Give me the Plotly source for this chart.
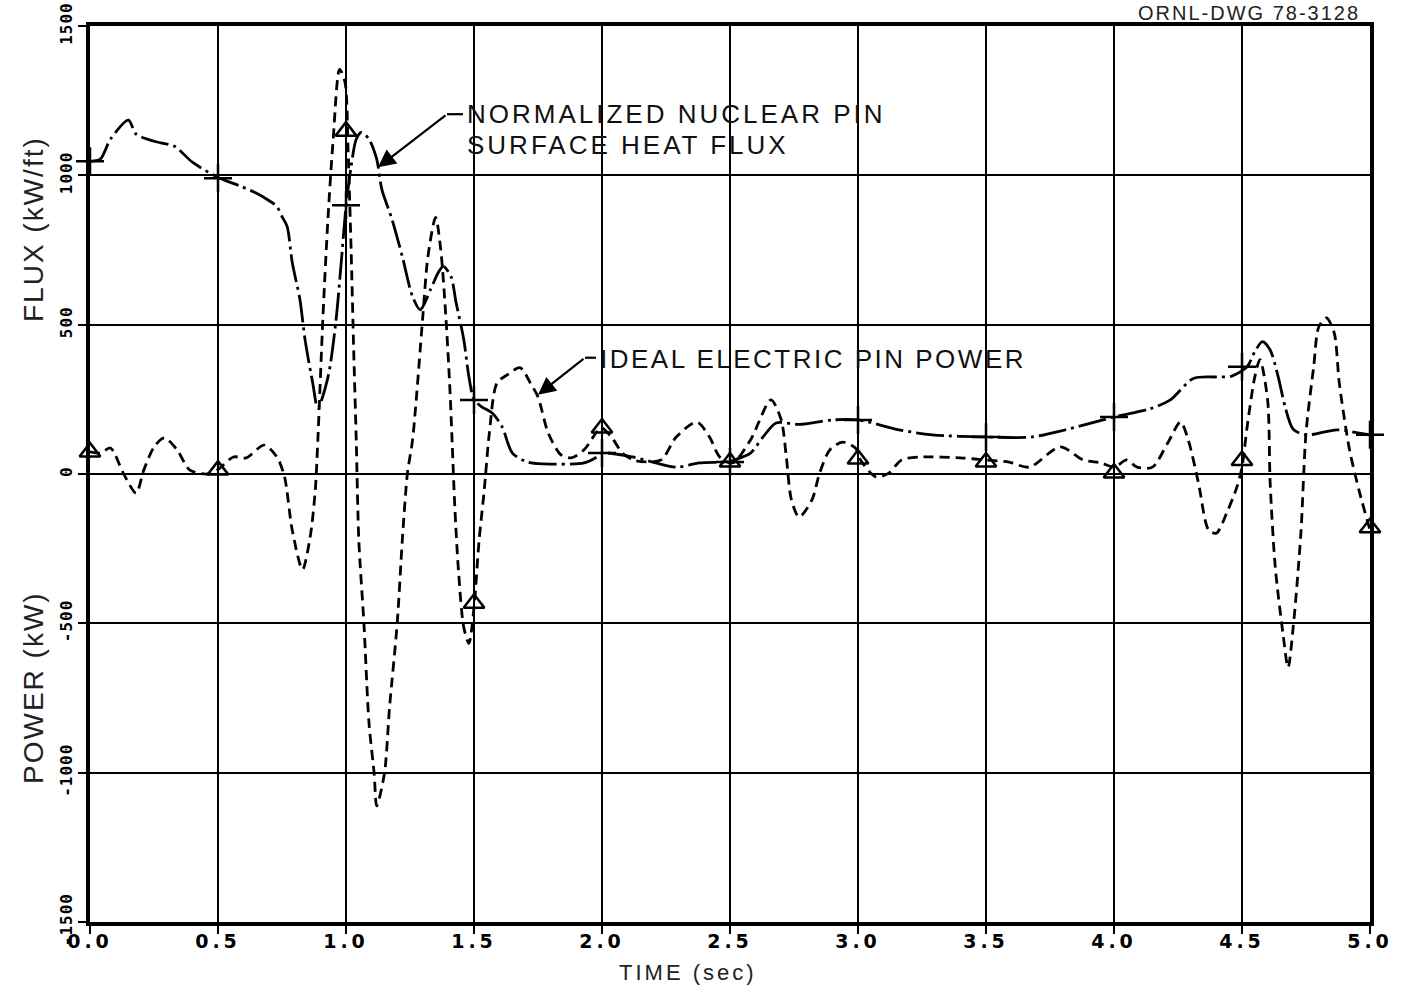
import plotly.graph_objects as go

# ---------------- data ----------------
flux_t = [0.00, 0.04, 0.08, 0.15, 0.18, 0.25, 0.33, 0.40, 0.50, 0.59, 0.66, 0.70, 0.73, 0.75,
          0.77, 0.79, 0.82, 0.84, 0.87, 0.89, 0.93, 0.96, 0.98, 1.00, 1.02, 1.04, 1.06, 1.09,
          1.12, 1.14, 1.18, 1.22, 1.26, 1.29, 1.33, 1.36, 1.38, 1.41, 1.43, 1.46, 1.48, 1.50,
          1.53, 1.57, 1.61, 1.65, 1.71, 1.77, 1.93, 1.98, 2.00, 2.12, 2.21, 2.29, 2.38, 2.50,
          2.54, 2.58, 2.63, 2.68, 2.77, 2.90, 3.00, 3.16, 3.29, 3.50, 3.68, 3.81, 4.00, 4.14,
          4.22, 4.31, 4.40, 4.46, 4.52, 4.55, 4.58, 4.61, 4.64, 4.67, 4.70, 4.75, 4.87, 4.95, 5.00]
flux_v = [1047, 1054, 1121, 1185, 1138, 1114, 1097, 1044, 993, 963, 936, 915, 896, 862,
          829, 708, 584, 450, 305, 221, 326, 507, 695, 896, 1030, 1121, 1144, 1121,
          1054, 953, 852, 728, 594, 550, 617, 674, 695, 661, 574, 450, 326, 250,
          225, 205, 158, 70, 40, 34, 37, 57, 70, 57, 37, 23, 37, 42,
          54, 70, 125, 171, 166, 181, 181, 148, 131, 124, 124, 148, 191, 218,
          248, 320, 325, 328, 359, 410, 443, 415, 330, 220, 150, 131, 148, 138, 131]

power_t = [0.00, 0.04, 0.08, 0.13, 0.18, 0.21, 0.25, 0.29, 0.34, 0.39, 0.46, 0.50, 0.56, 0.61,
           0.68, 0.73, 0.76, 0.79, 0.83, 0.86, 0.88, 0.89, 0.91, 0.93, 0.95, 0.975, 0.996, 1.008,
           1.02, 1.03, 1.04, 1.05, 1.07, 1.09, 1.11, 1.12, 1.15, 1.17, 1.20, 1.22, 1.24, 1.26,
           1.30, 1.32, 1.35, 1.37, 1.39, 1.405, 1.415, 1.425, 1.44, 1.46, 1.48, 1.50, 1.52, 1.54,
           1.56, 1.59, 1.63, 1.68, 1.72, 1.75, 1.79, 1.84, 1.88, 1.93, 1.98, 2.00, 2.04, 2.08,
           2.13, 2.23, 2.29, 2.37, 2.42, 2.46, 2.51, 2.58, 2.66, 2.70, 2.72, 2.74, 2.77, 2.82,
           2.85, 2.89, 2.94, 2.99, 3.01, 3.07, 3.12, 3.17, 3.25, 3.40, 3.50, 3.59, 3.67, 3.79,
           3.88, 3.95, 4.00, 4.05, 4.09, 4.15, 4.21, 4.26, 4.29, 4.33, 4.37, 4.40, 4.44, 4.48,
           4.50, 4.52, 4.55, 4.57, 4.60, 4.61, 4.63, 4.66, 4.68, 4.70, 4.73, 4.75, 4.78, 4.80,
           4.83, 4.86, 4.88, 4.92, 4.96, 5.00]
power_v = [74, 70, 87, 3, -64, 13, 90, 121, 81, 13, 0, 15, 57, 54,
           97, 57, -10, -188, -320, -211, -54, 114, 527, 862, 1121, 1355, 1312, 1087,
           750, 416, 114, -221, -500, -836, -1003, -1111, -1003, -782, -500, -221, 3, 114,
           527, 728, 859, 752, 527, 300, 100, -110, -332, -513, -567, -446, -221, -54,
           137, 305, 332, 356, 305, 258, 137, 64, 54, 81, 141, 154, 120, 70,
           45, 47, 124, 174, 124, 57, 37, 114, 248, 181, 57, -87, -144, -87,
           3, 81, 107, 87, 47, -10, 3, 47, 57, 54, 47, 40, 23, 91,
           47, 37, 23, 47, 23, 23, 104, 174, 114, -30, -188, -198, -131, -44,
           23, 158, 325, 383, 248, -30, -312, -534, -648, -513, -198, 138, 359, 493,
           523, 473, 305, 81, -64, -188]

marker_t = [0.0, 0.5, 1.0, 1.5, 2.0, 2.5, 3.0, 3.5, 4.0, 4.5, 5.0]
flux_marker_v = [1047, 990, 900, 248, 70, 40, 181, 124, 191, 359, 131]
power_marker_v = [74, 13, 1148, -433, 154, 40, 50, 40, 3, 45, -180]

x_tick_vals = [0.0, 0.5, 1.0, 1.5, 2.0, 2.5, 3.0, 3.5, 4.0, 4.5, 5.0]
x_tick_text = ["0.0", "0.5", "1.0", "1.5", "2.0", "2.5", "3.0", "3.5", "4.0", "4.5", "5.0"]
y_tick_vals = [-1500, -1000, -500, 0, 500, 1000, 1500]
y_tick_text = ["-1500", "-1000", "-500", "0", "500", "1000", "1500"]

# ---------------- figure ----------------
fig = go.Figure()

fig.add_trace(go.Scatter(
    x=flux_t, y=flux_v, mode="lines",
    line=dict(color="black", width=2.8, dash="28px,5px,3px,5px", shape="spline", smoothing=0.8),
    showlegend=False, hoverinfo="skip"))
fig.add_trace(go.Scatter(
    x=power_t, y=power_v, mode="lines",
    line=dict(color="black", width=2.8, dash="10px,6px", shape="spline", smoothing=0.8),
    showlegend=False, hoverinfo="skip"))
fig.add_trace(go.Scatter(
    x=marker_t, y=flux_marker_v, mode="markers",
    marker=dict(symbol="cross-thin", size=20, line=dict(color="black", width=2.5)),
    showlegend=False, hoverinfo="skip", cliponaxis=False))
fig.add_trace(go.Scatter(
    x=marker_t, y=power_marker_v, mode="markers",
    marker=dict(symbol="triangle-up-open", size=18, color="black", line=dict(color="black", width=2.5)),
    showlegend=False, hoverinfo="skip", cliponaxis=False))

L, R, T, B = 90, 36, 26, 75
W, H = 1406, 997
PW, PH = W - L - R, H - T - B


def px2paper_x(px):
    return (px - L) / PW


def py2paper_y(py):
    return (H - B - py) / PH


tick_font = dict(family="DejaVu Sans", size=19, color="black", weight="bold")
ytick_font = dict(family="DejaVu Sans Mono", size=16, color="black", weight="bold")

fig.update_xaxes(
    range=[0, 5], tickvals=x_tick_vals, automargin=False,
    ticktext=['<span style="letter-spacing:4px">%s</span>' % s for s in x_tick_text],
    tickfont=tick_font, ticks="outside", ticklen=8, tickwidth=2, tickcolor="black",
    ticklabelstandoff=-9,
    showgrid=True, gridcolor="black", gridwidth=2,
    showline=True, linecolor="black", linewidth=4, mirror=True, zeroline=False)
fig.update_yaxes(
    range=[-1500, 1500], tickvals=y_tick_vals, automargin=False,
    ticktext=['<span style="letter-spacing:1px">%s</span>' % s for s in y_tick_text],
    tickangle=-90, tickfont=ytick_font, ticks="outside", ticklen=8, tickwidth=2, tickcolor="black",
    showgrid=True, gridcolor="black", gridwidth=2,
    zeroline=True, zerolinecolor="black", zerolinewidth=2,
    showline=True, linecolor="black", linewidth=4, mirror=True)

label_font = dict(family="Liberation Sans", size=26, color="#111")
ann = []
# curve labels
ann.append(dict(xref="x", yref="y", x=(465 - L) / 256, y=(474 - 115) / 0.298, xanchor="left", yanchor="middle",
                text='<span style="letter-spacing:3px">NORMALIZED NUCLEAR PIN</span>',
                showarrow=False, font=label_font))
ann.append(dict(xref="x", yref="y", x=(465 - L) / 256, y=(474 - 146) / 0.298, xanchor="left", yanchor="middle",
                text='<span style="letter-spacing:3px">SURFACE HEAT FLUX</span>',
                showarrow=False, font=label_font))
ann.append(dict(xref="x", yref="y", x=(598 - L) / 256, y=(474 - 359) / 0.298, xanchor="left", yanchor="middle",
                text='<span style="letter-spacing:2.5px">IDEAL ELECTRIC PIN POWER</span>',
                showarrow=False, font=label_font))
# leader arrows
ann.append(dict(xref="x", yref="y", axref="x", ayref="y",
                x=(378 - L) / 256, y=(474 - 168) / 0.298,
                ax=(447 - L) / 256, ay=(474 - 115) / 0.298,
                text="", showarrow=True, arrowhead=2, arrowsize=1.6, arrowwidth=2.2, arrowcolor="black"))
ann.append(dict(xref="x", yref="y", axref="x", ayref="y",
                x=(538 - L) / 256, y=(474 - 395) / 0.298,
                ax=(585 - L) / 256, ay=(474 - 358) / 0.298,
                text="", showarrow=True, arrowhead=2, arrowsize=1.6, arrowwidth=2.2, arrowcolor="black"))
# axis titles
title_font = dict(family="Liberation Sans", size=28, color="#222")
ann.append(dict(xref="paper", yref="paper", x=px2paper_x(33), y=py2paper_y(229), xanchor="center", yanchor="middle",
                text='<span style="letter-spacing:2px">FLUX (kW/ft)</span>', textangle=-90,
                showarrow=False, font=title_font))
ann.append(dict(xref="paper", yref="paper", x=px2paper_x(33), y=py2paper_y(688), xanchor="center", yanchor="middle",
                text='<span style="letter-spacing:2px">POWER (kW)</span>', textangle=-90,
                showarrow=False, font=title_font))
ann.append(dict(xref="paper", yref="paper", x=px2paper_x(688), y=py2paper_y(972), xanchor="center", yanchor="middle",
                text='<span style="letter-spacing:3px">TIME (sec)</span>',
                showarrow=False, font=dict(family="Liberation Sans", size=22, color="#222")))
# drawing number (at the very top edge in the original)
ann.append(dict(xref="paper", yref="paper", x=px2paper_x(1362), y=py2paper_y(0), xanchor="right", yanchor="top",
                text='<span style="letter-spacing:2px">ORNL-DWG 78-3128</span>',
                showarrow=False, font=dict(family="Liberation Sans", size=20, color="#222")))

shapes = [dict(type="line", xref="x", yref="y",
               x0=(447 - L) / 256, y0=(474 - 115) / 0.298, x1=(463 - L) / 256, y1=(474 - 115) / 0.298,
               line=dict(color="black", width=2.2)),
          dict(type="line", xref="x", yref="y",
               x0=(585 - L) / 256, y0=(474 - 358) / 0.298, x1=(596 - L) / 256, y1=(474 - 358) / 0.298,
               line=dict(color="black", width=2.2))]

fig.update_layout(
    width=W, height=H,
    margin=dict(l=L, r=R, t=T, b=B, pad=0),
    paper_bgcolor="white", plot_bgcolor="white",
    annotations=ann, shapes=shapes,
    showlegend=False)

fig.write_html("out.html")
